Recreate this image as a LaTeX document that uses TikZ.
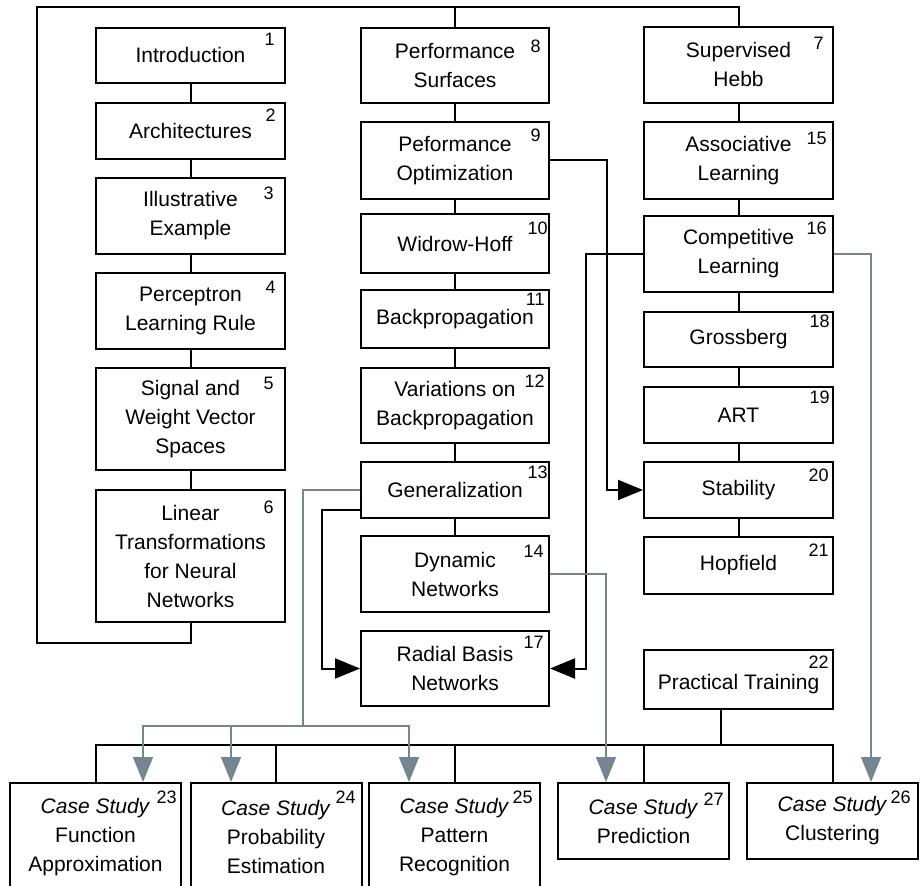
\documentclass[tikz,border=0pt]{standalone}
\usepackage{fontspec}
\setmainfont{Liberation Sans}
\usetikzlibrary{arrows.meta}
\definecolor{slate}{HTML}{74868F}

\begin{document}
\begin{tikzpicture}[x=0.5pt, y=-0.5pt,
	box/.style={draw, line width=1pt, align=center, inner sep=0pt, font=\fontsize{10.5pt}{14.5pt}\selectfont},
	col/.style={box, minimum width=94.5pt},
	mid/.style={box, minimum width=94pt},
	case/.style={box, minimum width=85.5pt},
	num/.style={anchor=north east, inner sep=0pt, font=\fontsize{9pt}{9pt}\selectfont},
	link/.style={line width=1pt},
	feed/.style={draw=slate, line width=0.8pt},
	tip/.style={-{Triangle[length=12.5pt, width=10pt]}}]
\useasboundingbox (0,0) rectangle (924,886);

\node[col, minimum height=27.5pt] (c01) at (190.5, 55.5) {Introduction};
\node[col, minimum height=28pt] (c02) at (190.5, 131) {Architectures};
\node[col, minimum height=38pt] (c03) at (190.5, 216) {Illustrative\\Example};
\node[col, minimum height=38pt] (c04) at (190.5, 311) {Perceptron\\Learning Rule};
\node[col, minimum height=51pt] (c05) at (190.5, 419) {Signal and\\Weight Vector\\Spaces};
\node[col, minimum height=66pt] (c06) at (190.5, 556) {Linear\\Transformations\\for Neural\\Networks};

\node[mid, minimum height=37.5pt] (c08) at (455, 65.5) {Performance\\Surfaces};
\node[mid, minimum height=38.5pt] (c09) at (455, 160.5) {Peformance\\Optimization};
\node[mid, minimum height=29.5pt] (c10) at (455, 243.5) {Widrow-Hoff};
\node[mid, minimum height=29pt] (c11) at (455, 319) {Backpropagation};
\node[mid, minimum height=37.5pt] (c12) at (455, 405.5) {Variations on\\Backpropagation};
\node[mid, minimum height=28pt] (c13) at (455, 490) {Generalization};
\node[mid, minimum height=38pt] (c14) at (455, 574) {Dynamic\\Networks};
\node[mid, minimum height=37.5pt] (c17) at (455, 668.5) {Radial Basis\\Networks};

\node[col, minimum height=38pt] (c07) at (738.5, 65) {Supervised\\Hebb};
\node[col, minimum height=38.5pt] (c15) at (738.5, 160.5) {Associative\\Learning};
\node[col, minimum height=38pt] (c16) at (738.5, 254) {Competitive\\Learning};
\node[col, minimum height=27.5pt] (c18) at (738.5, 339.5) {Grossberg};
\node[col, minimum height=28pt] (c19) at (738.5, 415) {ART};
\node[col, minimum height=28pt] (c20) at (738.5, 490) {Stability};
\node[col, minimum height=28.5pt] (c21) at (738.5, 565.5) {Hopfield};
\node[col, minimum height=29.5pt, text height=12pt] (c22) at (738.5, 679.5) {Practical Training};

\node[case, minimum height=54pt] (c23) at (95.5, 837) {\textit{Case Study}\\Function\\Approximation};
\node[case, minimum height=54pt] (c24) at (276, 837) {\textit{Case Study}\\Probability\\Estimation};
\node[case, minimum height=54pt] (c25) at (454.5, 837) {\textit{Case Study}\\Pattern\\Recognition};
\node[case, minimum height=38pt] (c27) at (643.5, 821) {\textit{Case Study}\\Prediction};
\node[case, minimum height=38pt] (c26) at (832.5, 821) {\textit{Case Study}\\Clustering};

\node[num] (k01) at (275, 33) {1};
\node[num] (k02) at (276, 109) {2};
\node[num] (k03) at (274, 187) {3};
\node[num] (k04) at (276, 281) {4};
\node[num] (k05) at (274, 377) {5};
\node[num] (k06) at (274, 501) {6};
\node[num] (k08) at (541, 40) {8};
\node[num] (k09) at (541, 129) {9};
\node[num] (k10) at (548, 222) {10};
\node[num] (k11) at (545, 293) {11};
\node[num] (k12) at (545, 375) {12};
\node[num] (k13) at (548, 466) {13};
\node[num] (k14) at (544, 545) {14};
\node[num] (k17) at (544, 636) {17};
\node[num] (k07) at (824, 37) {7};
\node[num] (k15) at (827, 132) {15};
\node[num] (k16) at (827, 222) {16};
\node[num] (k18) at (830, 315) {18};
\node[num] (k19) at (830, 391) {19};
\node[num] (k20) at (829, 469) {20};
\node[num] (k21) at (829, 544) {21};
\node[num] (k22) at (829, 656) {22};
\node[num] (k23) at (177, 791) {23};
\node[num] (k24) at (356, 791) {24};
\node[num] (k25) at (533, 791) {25};
\node[num] (k27) at (724, 793) {27};
\node[num] (k26) at (911, 791) {26};

\coordinate (lt) at (37, 7);
\coordinate (lb) at (37, 643);
\coordinate (bus) at (721, 745);
\coordinate (g1) at (303, 726);

\draw[link] (c01) -- (c02);
\draw[link] (c02) -- (c03);
\draw[link] (c03) -- (c04);
\draw[link] (c04) -- (c05);
\draw[link] (c05) -- (c06);

\draw[link] (c08) -- (c09);
\draw[link] (c09) -- (c10);
\draw[link] (c10) -- (c11);
\draw[link] (c11) -- (c12);
\draw[link] (c12) -- (c13);
\draw[link] (c13) -- (c14);

\draw[link] (c07) -- (c15);
\draw[link] (c15) -- (c16);
\draw[link] (c16) -- (c18);
\draw[link] (c18) -- (c19);
\draw[link] (c19) -- (c20);
\draw[link] (c20) -- (c21);

\draw[link] (c06.south) |- (lb) -- (lt) -| (c07.north);
\draw[link] (lt) -| (c08.north);

\draw[link] (c22.south -| bus) -- (bus);
\draw[link] (c23.north) |- (bus) -| (c26.north);
\draw[link] (c24.north) -- (c24.north |- bus);
\draw[link] (c25.north) -- (c25.north |- bus);
\draw[link] (c27.north) -- (c27.north |- bus);

\draw[link, tip] (c09.east) -- ++(57, 0) |- (c20.west);
\draw[link, tip] (c16.west) -- ++(-57, 0) |- (c17.east);
\draw[link, tip] ([yshift=-10pt]c13.west) -- ++(-38, 0) |- (c17.west);

\draw[feed] (c13.west) -| (g1);
\draw[feed, tip] (g1) -| ([xshift=23.75pt]c23.north);
\draw[feed, tip] (g1) -| ([xshift=-22.75pt]c25.north);
\draw[feed, tip] ([xshift=-22.5pt]c24.north |- g1) -- ([xshift=-22.5pt]c24.north);
\draw[feed, tip] (c14.east) -| ([xshift=-18.75pt]c27.north);
\draw[feed, tip] (c16.east) -| ([xshift=19.25pt]c26.north);
\end{tikzpicture}
\end{document}
